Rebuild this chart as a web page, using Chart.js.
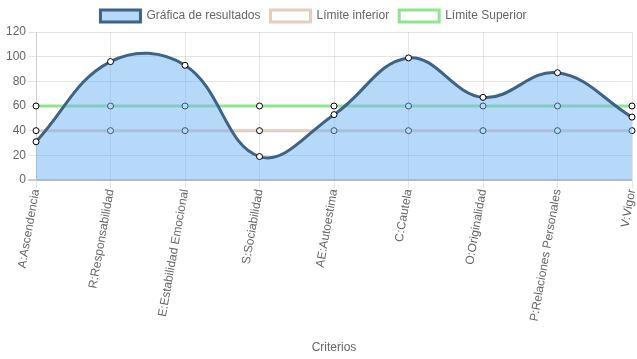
<!DOCTYPE html>
<html>
<head>
<meta charset="utf-8">
<script src="https://cdn.jsdelivr.net/npm/chart.js@4/dist/chart.umd.min.js"></script>
<style>
  html, body { margin: 0; padding: 0; background: #fff; }
  #wrap { width: 637px; height: 359px; }
</style>
</head>
<body>
<div id="wrap"><canvas id="chart"></canvas></div>
<script>
const criterios = ["A:Ascendencia", "R:Responsabilidad", "E:Estabilidad Emocional", "S:Sociabilidad",
  "AE:Autoestima", "C:Cautela", "O:Originalidad", "P:Relaciones Personales", "V:Vigor"]
const resultados = [31, 96, 93, 19, 53, 99, 67, 87, 51]
const limiteInferior = [40, 40, 40, 40, 40, 40, 40, 40, 40]
const limiteSuperior = [60, 60, 60, 60, 60, 60, 60, 60, 60]
const yTicks = [0, 20, 40, 60, 80, 100, 120]

Chart.defaults.font.family = "Arial, 'Liberation Sans', sans-serif"
Chart.defaults.font.size = 12
Chart.defaults.color = '#666'

const pointStyle = {
  pointRadius: 3,
  pointBackgroundColor: '#fff',
  pointBorderColor: '#000',
  pointBorderWidth: 1,
  tension: 0.4,
  borderWidth: 3
}

// the legend sits a few px left of centre in the original
const shiftLegend = {
  id: 'shiftLegend',
  afterLayout(chart) {
    chart.legend.left -= 5
    chart.legend.right -= 5
  }
}

new Chart(document.getElementById('chart'), {
  type: 'line',
  data: {
    labels: criterios,
    datasets: [
      {
        label: 'Gráfica de resultados',
        data: resultados,
        borderColor: '#3f6384',
        backgroundColor: 'rgba(110,180,245,0.5)',
        fill: 'origin',
        ...pointStyle
      },
      {
        label: 'Límite inferior',
        data: limiteInferior,
        borderColor: '#e6cbc0',
        backgroundColor: '#fff',
        fill: false,
        ...pointStyle
      },
      {
        label: 'Límite Superior',
        data: limiteSuperior,
        borderColor: '#90e690',
        backgroundColor: '#fff',
        fill: false,
        ...pointStyle
      }
    ]
  },
  plugins: [shiftLegend],
  options: {
    responsive: true,
    maintainAspectRatio: false,
    animation: false,
    layout: { padding: { left: 4, right: 4 } },
    plugins: {
      legend: {
        labels: { boxWidth: 40, font: { size: 12 } }
      },
      tooltip: { enabled: false }
    },
    scales: {
      x: {
        offset: false,
        title: {
          display: true,
          text: 'Criterios',
          padding: { top: 4, bottom: 4 }
        },
        grid: { color: 'rgba(0,0,0,0.1)' },
        ticks: { maxRotation: 80, minRotation: 80, padding: 0 },
        afterFit: scale => {
          scale.paddingRight = 0
          scale.height = 179
        }
      },
      y: {
        min: yTicks[0],
        max: yTicks[yTicks.length - 1],
        afterBuildTicks: axis => { axis.ticks = yTicks.map(v => ({ value: v })) },
        grid: {
          color: ctx => ctx.tick && ctx.tick.value === 0 ? 'rgba(0,0,0,0.2)' : 'rgba(0,0,0,0.1)',
          lineWidth: ctx => ctx.tick && ctx.tick.value === 0 ? 2 : 1
        },
        ticks: { padding: 2 }
      }
    }
  }
})
</script>
</body>
</html>
